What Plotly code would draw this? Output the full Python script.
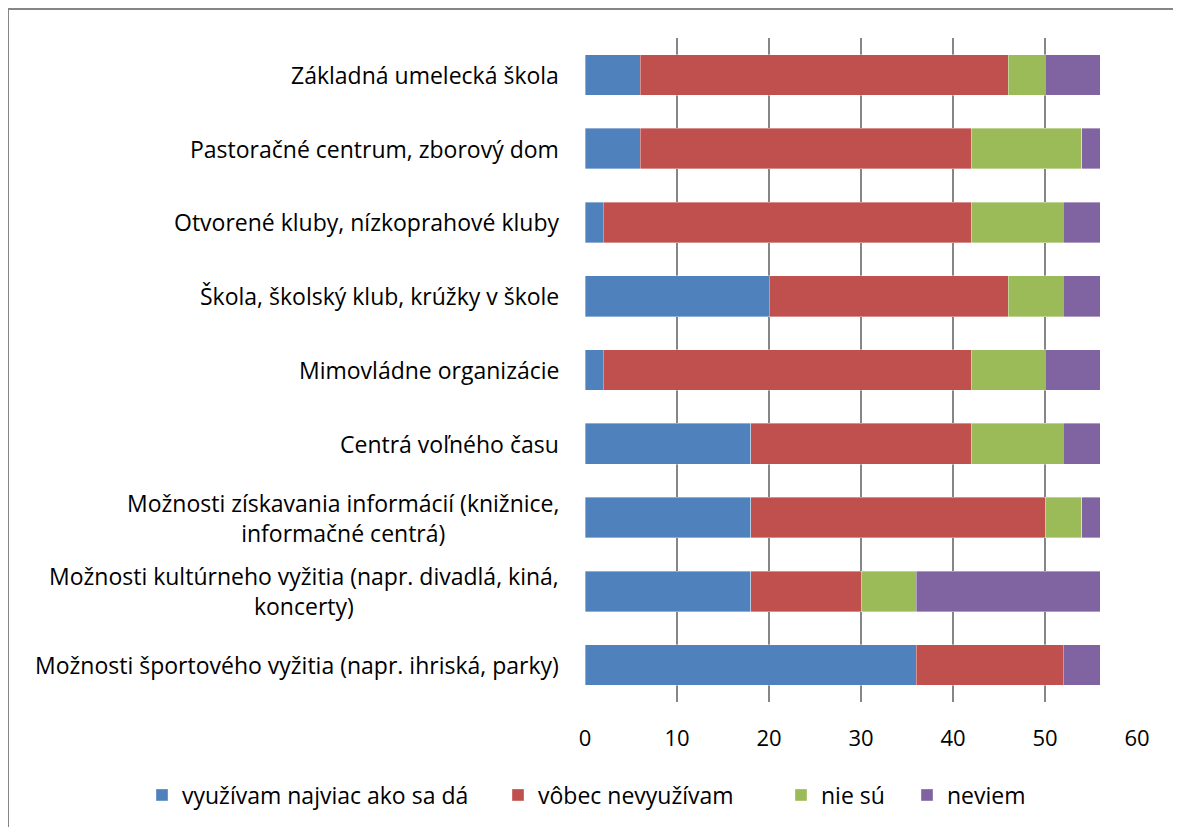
import plotly.graph_objects as go

categories = [
    "Základná umelecká škola",
    "Pastoračné centrum, zborový dom",
    "Otvorené kluby, nízkoprahové kluby",
    "Škola, školský klub, krúžky v škole",
    "Mimovládne organizácie",
    "Centrá voľného času",
    "Možnosti získavania informácií (knižnice,<br>informačné centrá)",
    "Možnosti kultúrneho vyžitia (napr. divadlá, kiná,<br>koncerty)",
    "Možnosti športového vyžitia (napr. ihriská, parky)",
]
series_names = ["využívam najviac ako sa dá", "vôbec nevyužívam", "nie sú", "neviem"]
vyuzivam = [6, 6, 2, 20, 2, 18, 18, 18, 36]
nevyuzivam = [40, 36, 40, 26, 40, 24, 32, 12, 16]
nie_su = [4, 12, 10, 6, 8, 10, 4, 6, 0]
neviem = [6, 2, 4, 4, 6, 4, 2, 20, 4]
x_ticks = [0, 10, 20, 30, 40, 50, 60]

colors = ["#4F81BD", "#C0504D", "#9BBB59", "#8064A2"]
values = [vyuzivam, nevyuzivam, nie_su, neviem]

W, H = 1181, 827
OFF = 8  # page body margin
L, R, T, B = 585 - OFF, W - (1137 - OFF), 38 - OFF, H - (702 - OFF)
pw, ph = W - L - R, H - T - B

FONT = "Open Sans"
FS = 23

fig = go.Figure()
legend_text_px = [183, 539, 822, 948]
legend_ids = ["legend", "legend2", "legend3", "legend4"]
for name, vals, col, lid in zip(series_names, values, colors, legend_ids):
    fig.add_trace(go.Bar(
        y=categories, x=vals, name=name, orientation="h",
        marker=dict(color=col, line=dict(color="rgba(255,255,255,0.6)", width=0.6)),
        width=0.55, legend=lid,
    ))

layout_legends = {}
for lid, px in zip(legend_ids, legend_text_px):
    fx = px - OFF - 41
    layout_legends[lid] = dict(
        x=(fx - L) / pw, xanchor="left", y=(H - B - (795 - OFF)) / ph, yanchor="middle",
        orientation="h", font=dict(family=FONT, size=FS, color="#000"),
        bgcolor="rgba(0,0,0,0)", borderwidth=0, itemwidth=30,
    )

annotations = []
for c in categories:
    annotations.append(dict(
        x=0, xref="paper", y=c, yref="y", text=c, showarrow=False,
        xanchor="right", align="center", xshift=-24,
        font=dict(family=FONT, size=FS, color="#000"),
    ))

fig.update_layout(
    width=W, height=H,
    margin=dict(l=L, r=R, t=T, b=B),
    paper_bgcolor="white", plot_bgcolor="white",
    barmode="stack",
    showlegend=True,
    annotations=annotations,
    xaxis=dict(
        range=[0, 60], tickvals=x_ticks, showgrid=True, gridcolor="#868686", gridwidth=2,
        zeroline=False, showline=False, ticks="", ticklabelstandoff=21,
        tickfont=dict(family=FONT, size=22, color="#000"),
    ),
    yaxis=dict(
        categoryorder="array", categoryarray=categories, autorange="reversed",
        showticklabels=False, showgrid=False, zeroline=False, showline=False, ticks="",
    ),
    shapes=[dict(
        type="rect", xref="paper", yref="paper",
        x0=(0 - L) / pw, x1=(1170 - L) / pw, y0=(H - B - 840) / ph, y1=(H - B - 1) / ph,
        line=dict(color="#868686", width=2), fillcolor="rgba(0,0,0,0)", layer="below",
    )],
    **layout_legends,
)

fig.write_html("out.html")
